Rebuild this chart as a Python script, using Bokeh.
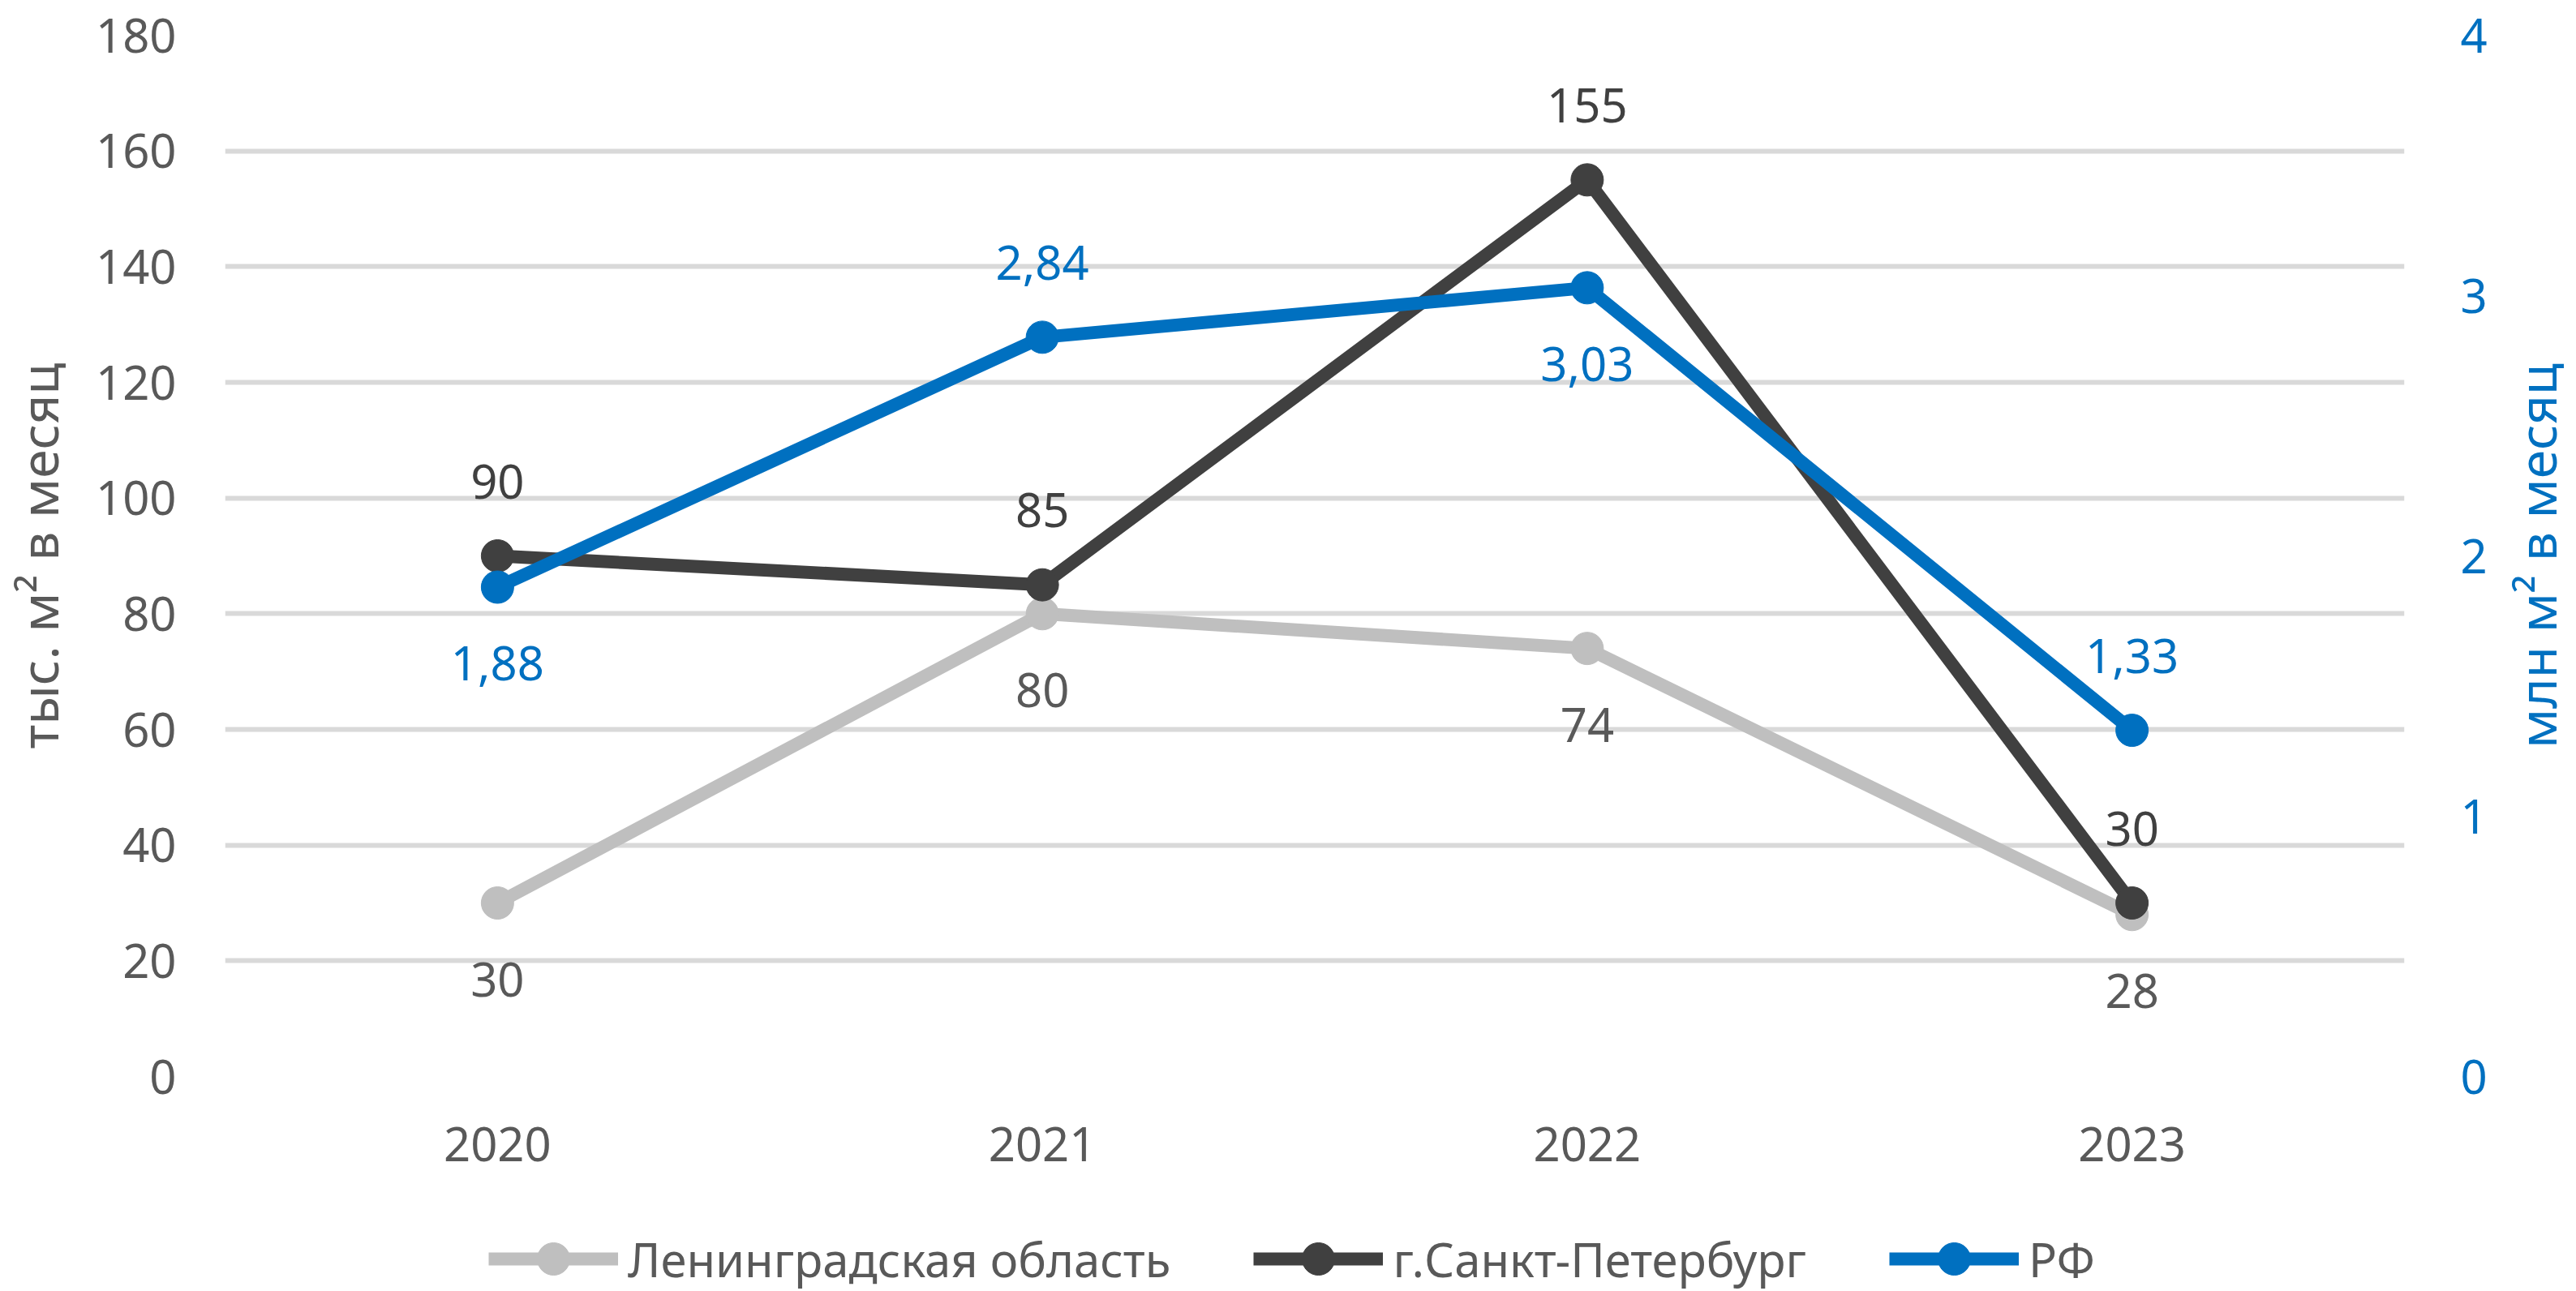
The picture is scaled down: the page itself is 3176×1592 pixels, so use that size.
import math
from bokeh.plotting import figure
from bokeh.layouts import column, row
from bokeh.models import (FactorRange, Range1d, LinearAxis, FixedTicker, Legend,
                          LegendItem)
from bokeh.core.properties import value
from bokeh.embed import file_html
from bokeh.resources import INLINE

# ---------------- data ----------------
years = ["2020", "2021", "2022", "2023"]
series_names = ["Ленинградская область", "г.Санкт-Петербург", "РФ"]
len_obl = [30, 80, 74, 28]          # тыс. м² в месяц (left axis)
spb = [90, 85, 155, 30]             # тыс. м² в месяц (left axis)
rf = [1.88, 2.84, 3.03, 1.33]       # млн м² в месяц (right axis)
len_labels = ["30", "80", "74", "28"]
spb_labels = ["90", "85", "155", "30"]
rf_labels = ["1,88", "2,84", "3,03", "1,33"]
left_ticks = [0, 20, 40, 60, 80, 100, 120, 140, 160, 180]
right_ticks = [0, 1, 2, 3, 4]
left_title = "тыс. м² в месяц"
right_title = "млн м² в месяц"

# label placement (above / below the point)
len_side = ["below", "below", "below", "below"]
spb_side = ["above", "above", "above", "above"]
rf_side = ["below", "above", "below", "above"]

FONT = "Noto Sans"
GREY = "#BFBFBF"
DARK = "#404040"
BLUE = "#0070C0"
TXT = "#595959"

W = 3176
W_TITLE = 96          # strip on the right holding the right-axis title
H_MAIN = 1512
H_LEG = 80
FRAME_L, FRAME_R, FRAME_T, FRAME_B = 273, 2964, 43, 1327


def offs(sides):
    return [-92 if s == "above" else 94 for s in sides]


def bare(fig):
    fig.outline_line_color = None
    fig.grid.visible = False


W_MAIN = W - W_TITLE
p = figure(x_range=FactorRange(factors=years, range_padding=0),
           y_range=Range1d(0, 180),
           width=W_MAIN, height=H_MAIN,
           output_backend="svg", toolbar_location=None,
           min_border_left=FRAME_L, min_border_right=W_MAIN - FRAME_R,
           min_border_top=FRAME_T, min_border_bottom=H_MAIN - FRAME_B)
p.extra_y_ranges = {"rf": Range1d(0, 4)}
p.outline_line_color = None

# grid
p.xgrid.visible = False
p.ygrid.grid_line_color = "#D9D9D9"
p.ygrid.grid_line_width = 6
p.ygrid.ticker = FixedTicker(ticks=left_ticks)

# axes
ly = p.yaxis[0]
ly.ticker = FixedTicker(ticks=left_ticks)
ry = LinearAxis(y_range_name="rf", ticker=FixedTicker(ticks=right_ticks))
p.add_layout(ry, "right")


def style_axis(ax, col):
    ax.axis_line_color = None
    ax.major_tick_line_color = None
    ax.minor_tick_line_color = None
    ax.major_tick_out = 0
    ax.major_tick_in = 0
    ax.minor_tick_out = 0
    ax.minor_tick_in = 0
    ax.major_label_text_font = FONT
    ax.major_label_text_font_size = "58px"
    ax.major_label_text_color = col


for ax, col in [(p.xaxis[0], TXT), (ly, TXT), (ry, BLUE)]:
    style_axis(ax, col)

p.xaxis[0].major_label_standoff = 62
ly.major_label_standoff = 60
ry.major_label_standoff = 69

ly.axis_label = left_title
ly.axis_label_text_font = FONT
ly.axis_label_text_font_size = "64px"
ly.axis_label_text_font_style = "normal"
ly.axis_label_text_color = TXT
ly.axis_label_standoff = 24

# series
lw = 16
msz = 40
p.line(years, len_obl, line_color=GREY, line_width=lw, line_join="round", line_cap="round")
p.scatter(years, len_obl, size=msz, fill_color=GREY, line_color=GREY)
p.line(years, spb, line_color=DARK, line_width=lw, line_join="round", line_cap="round")
p.scatter(years, spb, size=msz, fill_color=DARK, line_color=DARK)
p.line(years, rf, line_color=BLUE, line_width=lw, line_join="round", line_cap="round",
       y_range_name="rf")
p.scatter(years, rf, size=msz, fill_color=BLUE, line_color=BLUE, y_range_name="rf")

# data labels
p.text(x=years, y=len_obl, text=len_labels, y_offset=offs(len_side),
       text_align="center", text_baseline="middle", text_font=value(FONT),
       text_font_size="58px", text_color=TXT)
p.text(x=years, y=spb, text=spb_labels, y_offset=offs(spb_side),
       text_align="center", text_baseline="middle", text_font=value(FONT),
       text_font_size="58px", text_color=DARK)
p.text(x=years, y=rf, text=rf_labels, y_offset=offs(rf_side), y_range_name="rf",
       text_align="center", text_baseline="middle", text_font=value(FONT),
       text_font_size="58px", text_color=BLUE)

# ---------------- right-axis title strip (same vertical frame as the chart) ----------------
tt = figure(width=W_TITLE, height=H_MAIN, x_range=Range1d(0, 1), y_range=Range1d(0, 4),
            output_backend="svg", toolbar_location=None,
            x_axis_location=None, y_axis_location="left",
            min_border_left=W_TITLE - 1, min_border_right=0,
            min_border_top=FRAME_T, min_border_bottom=H_MAIN - FRAME_B)
bare(tt)
ta = tt.yaxis[0]
style_axis(ta, BLUE)
ta.ticker = FixedTicker(ticks=[])
ta.major_label_standoff = 0
ta.axis_label = right_title
ta.axis_label_text_font = FONT
ta.axis_label_text_font_size = "64px"
ta.axis_label_text_font_style = "normal"
ta.axis_label_text_color = BLUE
ta.axis_label_standoff = 6

# ---------------- legend strip ----------------
# proxies carry the same series, drawn outside this strip's visible range
lg = figure(width=W, height=H_LEG, x_range=FactorRange(factors=years, range_padding=0),
            y_range=Range1d(-2, -1),
            output_backend="svg", toolbar_location=None,
            x_axis_location=None, y_axis_location=None,
            min_border=0, min_border_left=0, min_border_right=0,
            min_border_top=0, min_border_bottom=0)
bare(lg)
items = []
for name, colr, vals in zip(series_names, [GREY, DARK, BLUE], [len_obl, spb, rf]):
    lr = lg.line(x=years, y=vals, line_color=colr, line_width=lw)
    sr = lg.scatter(x=years, y=vals, fill_color=colr, line_color=colr)
    items.append(LegendItem(label=name, renderers=[lr, sr]))

legend = Legend(items=items, orientation="horizontal", location=(602, -10),
                glyph_width=160, glyph_height=100, label_standoff=12,
                spacing=102, padding=0, margin=0,
                border_line_color=None, background_fill_alpha=0,
                label_text_font=FONT, label_text_font_size="58px",
                label_text_color=TXT)
lg.add_layout(legend)

layout = column(row(p, tt, spacing=0), lg, spacing=0)
open("out.html", "w").write(file_html(layout, INLINE))
